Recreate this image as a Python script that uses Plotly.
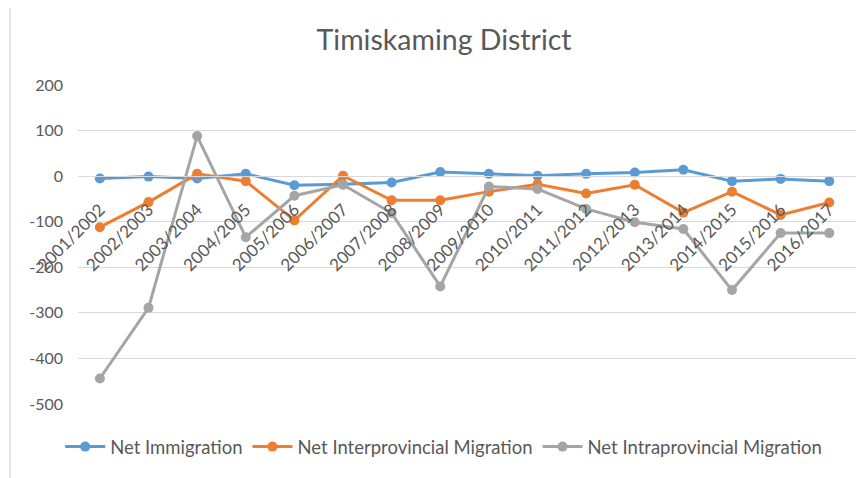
import plotly.graph_objects as go

# ── Data ─────────────────────────────────────────────────────────────────────
anos = [
    "2001/2002", "2002/2003", "2003/2004", "2004/2005", "2005/2006", "2006/2007",
    "2007/2008", "2008/2009", "2009/2010", "2010/2011", "2011/2012", "2012/2013",
    "2013/2014", "2014/2015", "2015/2016", "2016/2017",
]
imigracao = [-5, -1, -5, 5, -20, -18, -14, 9, 5, 1, 5, 8, 14, -11, -6, -11]
interprovincial = [-112, -57, 5, -11, -97, 1, -53, -53, -34, -18, -38, -19, -80, -34, -85, -58]
intraprovincial = [-444, -289, 88, -134, -43, -19, -81, -242, -23, -28, -72, -101, -116, -250, -125, -125]

series_nomes = ["Net Immigration", "Net Interprovincial Migration", "Net Intraprovincial Migration"]
y_ticks = [200, 100, 0, -100, -200, -300, -400, -500]
y_labels = ["200", "100", "0", "-100", "-200", "-300", "-400", "-500"]

# ── Estilo ───────────────────────────────────────────────────────────────────
CORES = {
    "azul": "#5B9BD5",
    "laranja": "#ED7D31",
    "cinza": "#A5A5A5",
    "grade": "#D9D9D9",
    "texto": "#595959",
}
FONTE = "Lato, 'Open Sans', sans-serif"

fig = go.Figure()
for nome, valores, cor in zip(
    series_nomes,
    [imigracao, interprovincial, intraprovincial],
    [CORES["azul"], CORES["laranja"], CORES["cinza"]],
):
    fig.add_trace(go.Scatter(
        x=anos, y=valores,
        mode="lines+markers",
        name=nome,
        line=dict(color=cor, width=3),
        marker=dict(size=10, color=cor),
    ))

# moldura do gráfico (estilo Excel)
fig.add_shape(
    type="rect", xref="paper", yref="paper",
    x0=-0.0874, x1=1.2, y0=-0.6, y1=1.2476,
    line=dict(color=CORES["grade"], width=1.5),
    layer="below",
)

# a página tem margem de 8px no body, por isso as margens já descontam isso
fig.update_layout(
    width=867, height=478,
    paper_bgcolor="white",
    plot_bgcolor="white",
    font=dict(family=FONTE, color=CORES["texto"], size=16),
    margin=dict(l=70, r=19, t=77, b=82, autoexpand=False),
    title=dict(
        text="Timiskaming District",
        x=0.503, xanchor="center",
        y=0.933, yanchor="middle",
        font=dict(size=28.5, color=CORES["texto"]),
        automargin=False,
    ),
    showlegend=True,
    legend=dict(
        orientation="h",
        x=0.47, xanchor="center",
        y=-0.135, yanchor="middle",
        font=dict(size=18.5, color=CORES["texto"]),
        bgcolor="rgba(0,0,0,0)",
        itemwidth=40,
        tracegroupgap=0,
    ),
    xaxis=dict(
        type="category",
        range=[-0.45, len(anos) - 0.45],
        anchor="free",
        position=500 / 700,
        automargin=False,
        showgrid=False,
        showline=True,
        linecolor=CORES["grade"],
        linewidth=1,
        ticks="",
        tickangle=-45,
        ticklabelstandoff=16,
        tickfont=dict(size=17, color=CORES["texto"]),
        zeroline=False,
    ),
    yaxis=dict(
        range=[-500, 200],
        tickvals=y_ticks,
        ticktext=y_labels,
        automargin=False,
        showgrid=True,
        gridcolor=CORES["grade"],
        gridwidth=1,
        zeroline=False,
        showline=False,
        ticks="",
        ticklabelstandoff=14,
        tickfont=dict(size=16, color=CORES["texto"]),
    ),
)

fig.write_html("out.html")
